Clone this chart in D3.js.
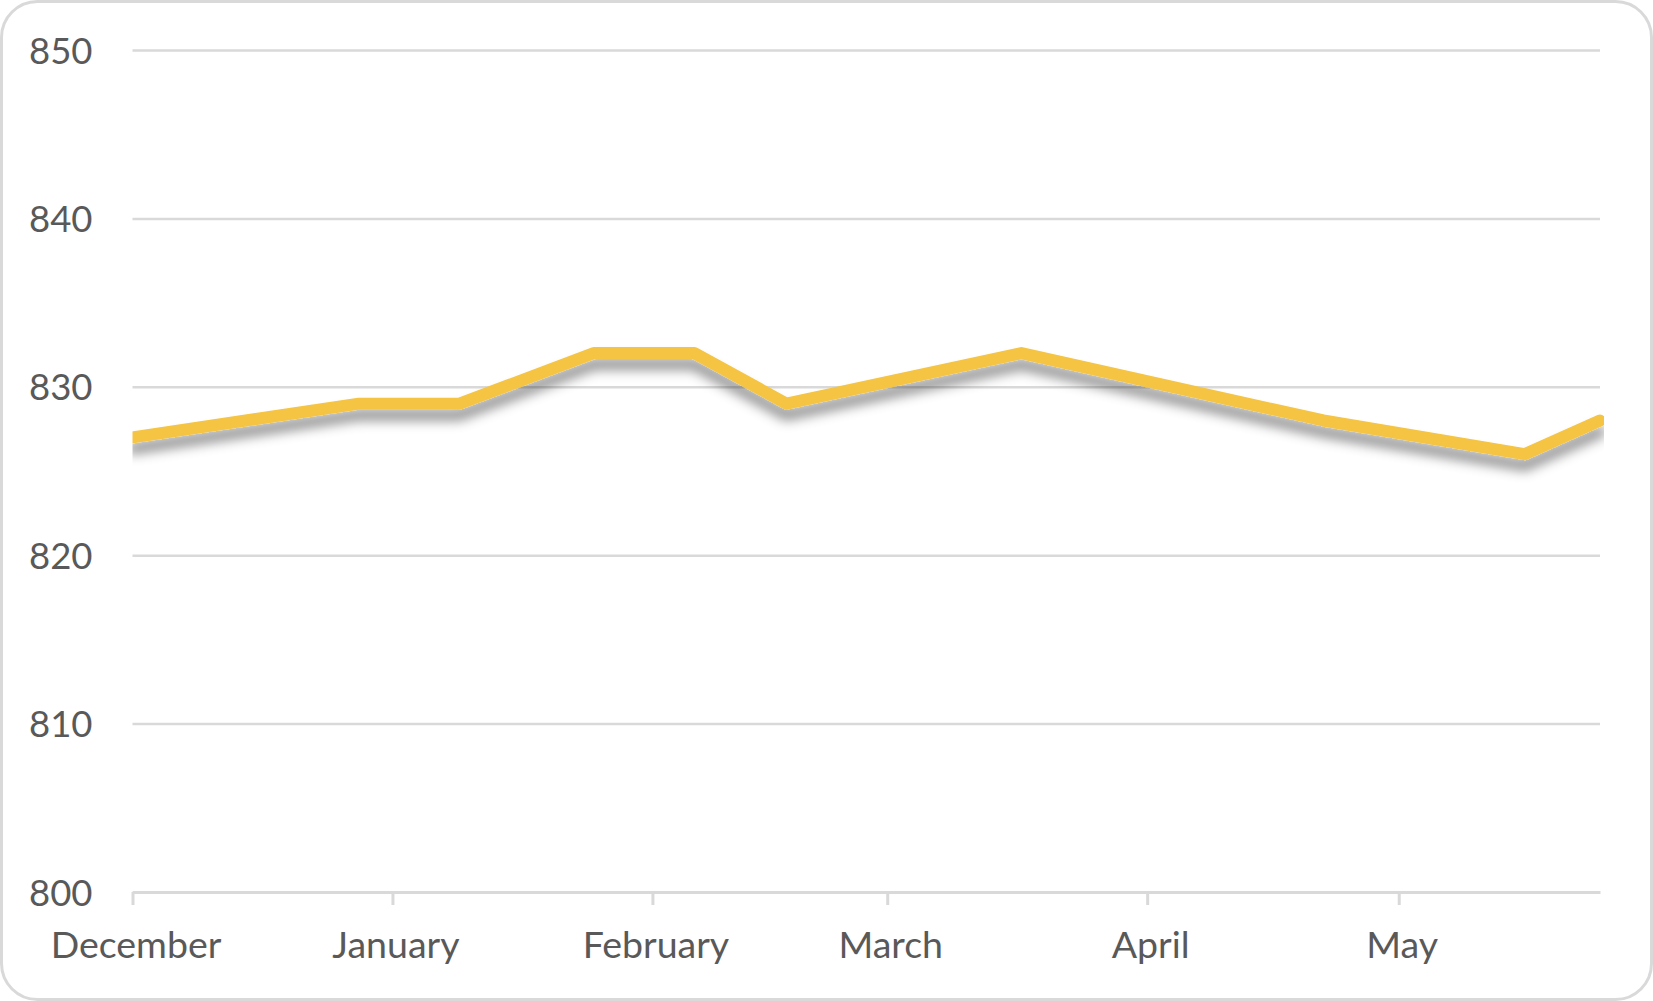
<!DOCTYPE html>
<html>
<head>
<meta charset="utf-8">
<script src="https://cdn.jsdelivr.net/npm/d3@7"></script>
<style>
  body { margin: 0; background: #fff; }
  svg text { font-family: Lato, "Open Sans", sans-serif; fill: #595959; }
</style>
</head>
<body>
<svg id="chart"></svg>
<script>
// chart data
const pointDates = ["2018-12-01", "2018-12-28", "2019-01-09", "2019-01-25", "2019-02-06",
                    "2019-02-17", "2019-03-17", "2019-04-22", "2019-05-16", "2019-05-25"];
const pointValues = [827, 829, 829, 832, 832, 829, 832, 828, 826, 828];
const monthTicks = ["2018-12-01", "2019-01-01", "2019-02-01", "2019-03-01", "2019-04-01", "2019-05-01"];
const yTicks = [800, 810, 820, 830, 840, 850];

const width = 1653, height = 1001;
const margin = {top: 50, right: 53, bottom: 109, left: 132.5};

const parseDate = d3.timeParse("%Y-%m-%d");
const data = pointDates.map((d, i) => ({date: parseDate(d), value: pointValues[i]}));

const svg = d3.select("#chart")
    .attr("width", width)
    .attr("height", height);

// outer frame
svg.append("rect")
    .attr("x", 1.5).attr("y", 1.5)
    .attr("width", width - 3).attr("height", height - 3)
    .attr("rx", 36)
    .attr("fill", "#fff")
    .attr("stroke", "#d9d9d9")
    .attr("stroke-width", 3);

const x = d3.scaleTime()
    .domain([data[0].date, data[data.length - 1].date])
    .range([margin.left, width - margin.right]);

const y = d3.scaleLinear()
    .domain([800, 850])
    .range([height - margin.bottom, margin.top]);

// gridlines + y labels
const yAxis = svg.append("g")
    .attr("transform", `translate(${margin.left},0)`)
    .call(d3.axisLeft(y)
        .tickValues(yTicks)
        .tickSize(-(width - margin.right - margin.left))
        .tickFormat(d3.format("d")));
yAxis.select(".domain").remove();
yAxis.selectAll(".tick line")
    .attr("stroke", "#d9d9d9")
    .attr("stroke-width", 2.5);
yAxis.selectAll(".tick text")
    .attr("x", -40)
    .attr("dy", "0.36em")
    .style("font-size", "36.5px")
    .attr("fill", "#595959");

// x axis
const xAxis = svg.append("g")
    .attr("transform", `translate(0,${height - margin.bottom})`)
    .call(d3.axisBottom(x)
        .tickValues(monthTicks.map(parseDate))
        .tickSize(13)
        .tickSizeOuter(0)
        .tickFormat(d3.timeFormat("%B")));
xAxis.select(".domain")
    .attr("stroke", "#d9d9d9")
    .attr("stroke-width", 3);
xAxis.selectAll(".tick line")
    .attr("stroke", "#d9d9d9")
    .attr("stroke-width", 3);
xAxis.selectAll(".tick text")
    .attr("x", 3)
    .attr("y", 66)
    .attr("dy", 0)
    .style("font-size", "37.5px")
    .attr("fill", "#595959");

// shadow for the series line
const defs = svg.append("defs");
const filter = defs.append("filter")
    .attr("id", "shadow")
    .attr("x", "-5%").attr("y", "-50%")
    .attr("width", "110%").attr("height", "250%");
filter.append("feDropShadow")
    .attr("dx", 0).attr("dy", 11)
    .attr("stdDeviation", 6)
    .attr("flood-color", "#000")
    .attr("flood-opacity", 0.42);

defs.append("clipPath")
    .attr("id", "plotClip")
    .append("rect")
    .attr("x", margin.left).attr("y", 0)
    .attr("width", width - margin.right - margin.left + 4)
    .attr("height", height);

const line = d3.line()
    .x(d => x(d.date))
    .y(d => y(d.value));

svg.append("g")
    .attr("clip-path", "url(#plotClip)")
    .append("path")
    .datum(data)
    .attr("fill", "none")
    .attr("stroke", "#f4c443")
    .attr("stroke-width", 12)
    .attr("stroke-linejoin", "round")
    .attr("stroke-linecap", "round")
    .attr("filter", "url(#shadow)")
    .attr("d", line);
</script>
</body>
</html>
